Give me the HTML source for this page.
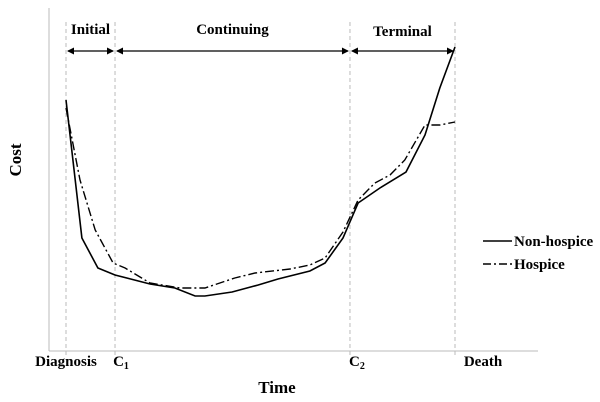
<!DOCTYPE html>
<html><head><meta charset="utf-8"><style>
body{margin:0;background:#fff}
svg{display:block;font-family:"Liberation Serif",serif;font-weight:bold}
</style></head><body>
<svg id="c" width="600" height="402">
<line x1="49" y1="8" x2="49" y2="351" stroke="#bbb"/>
<line x1="49" y1="351" x2="538" y2="351" stroke="#bbb"/>
<text x="21" y="160" font-size="17" text-anchor="middle" transform="rotate(-90 21 160)">Cost</text>
<text x="277" y="393" font-size="17" text-anchor="middle">Time</text>
<g id="marks"></g>
<g>
<line x1="483" y1="241" x2="512" y2="241" stroke="#000" stroke-width="1.6"/>
<text x="514" y="246" font-size="15">Non-hospice</text>
<line x1="483" y1="264" x2="512" y2="264" stroke="#000" stroke-width="1.4" stroke-dasharray="8,3,2,3"/>
<text x="514" y="269" font-size="15">Hospice</text>
</g>
</svg>
<script>
const phaseTimes=[0,12.6,73,100];
const phaseTickLabels=["Diagnosis","C1","C2","Death"];
const phaseNames=["Initial","Continuing","Terminal"];
const nonHospiceTime=[0,4.1,8.2,12.6,21.6,28,33.2,35.7,42.7,49.4,54.5,62.7,66.6,71.2,75.1,80.7,87.4,92.3,96.1,100];
const nonHospiceCost=[244,106,76,69,60,56,48,48,52,59,65,73,81,106,141,156,172,209,256,297];
const hospiceTime=[0,3.6,7.5,12.1,15.2,21.6,29.3,35.7,43.4,48.6,57.6,62.7,66.6,71.2,75.1,79.4,83.3,87.1,92.3,96.1,100];
const hospiceCost=[236,164,114,81,76,61,56,56,66,71,75,79,86,112,144,161,169,184,219,219,222];

const NS="http://www.w3.org/2000/svg";
const xs=t=>66+t*3.89;
const ys=c=>344-c;
const g=document.getElementById('marks');
function mk(tag,attrs){const e=document.createElementNS(NS,tag);for(const k in attrs)e.setAttribute(k,attrs[k]);g.appendChild(e);return e;}
const labOff=[0,6,7,28];
phaseTimes.forEach((t,i)=>{
  const l=mk('line',{x1:xs(t),x2:xs(t),y1:22,y2:356,stroke:'#bbb','stroke-dasharray':'4,3'});
  
  
  const tx=mk('text',{x:xs(t)+labOff[i],y:366,'font-size':15,'text-anchor':'middle'});
  
  
  const lab=phaseTickLabels[i];
  if(lab[0]=='C'){tx.textContent='C';const s=document.createElementNS(NS,'tspan');s.setAttribute('font-size','10');s.setAttribute('dy','3');s.textContent=lab.slice(1);tx.appendChild(s);}
  else tx.textContent=lab;
});
for(let i=0;i<3;i++){
  const a=xs(phaseTimes[i]),b=xs(phaseTimes[i+1]);
  const l=mk('line',{x1:a+2,x2:b-2,y1:51,y2:51,stroke:'#000','stroke-width':1.3});
  
  
  const p=mk('path',{d:`M${a+1},51 l7,-3.5 v7z M${b-1},51 l-7,-3.5 v7z`,fill:'#000'});
  
  
  const tx=mk('text',{x:(a+b)/2,y:i==2?36:34,'font-size':15,'text-anchor':'middle'});
  
  
  tx.textContent=phaseNames[i];
}
const pts=(T,C)=>T.map((t,i)=>xs(t).toFixed(1)+','+ys(C[i]).toFixed(1)).join(' ');
const s1=mk('polyline',{points:pts(nonHospiceTime,nonHospiceCost),fill:'none',stroke:'#000','stroke-width':1.6});


const s2=mk('polyline',{points:pts(hospiceTime,hospiceCost),fill:'none',stroke:'#000','stroke-width':1.4,'stroke-dasharray':'9,3,2,3'});


</script>
</body></html>
